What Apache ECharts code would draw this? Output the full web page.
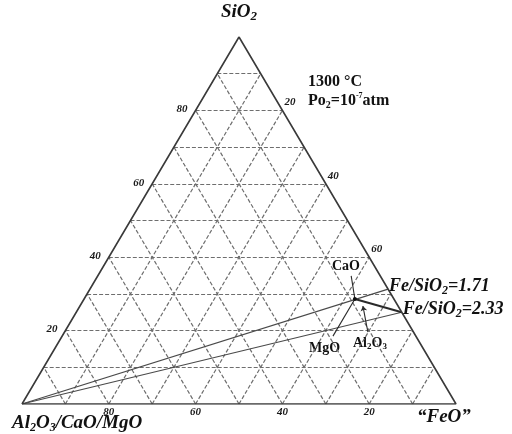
<!DOCTYPE html>
<html><head><meta charset="utf-8">
<script src="https://cdn.jsdelivr.net/npm/echarts@6/dist/echarts.min.js"></script>
<style>html,body{margin:0;padding:0;background:#fff}#c{width:512px;height:434px}</style>
</head><body><div id="c"></div>
<script>
// ---- data (ternary compositions: SiO2 %, "FeO" %) ----
const gridSteps = [10, 20, 30, 40, 50, 60, 70, 80, 90];
const leftTicks = [20, 40, 60, 80];      // SiO2 on left edge
const rightTicks = [20, 40, 60];         // FeO on right edge
const bottomTicks = [80, 60, 40, 20];    // Al2O3/CaO/MgO on base
const ratioLabels = ['1.71', '2.33'];
const ratioEndSiO2 = [31.3, 25.0];       // where Fe/SiO2 lines meet the SiO2-"FeO" edge
const pointP = [28.6, 62.4];             // [SiO2, FeO]
const caoLeader = [[34.9, 58.4], [28.6, 62.4]];
const mgoLeader = [[18.5, 62.4], [28.6, 62.4]];
const al2o3Arrow = [[19.6, 69.9], [26.7, 65.2]];
const thickSeg = [[28.6, 62.4], [25.0, 75.0]];

function tern(s, f) { return [f + s / 2, s]; }

const gridLines = [];
gridSteps.forEach(v => {
  gridLines.push({coords: [tern(v, 0), tern(v, 100 - v)]});          // constant SiO2
  gridLines.push({coords: [tern(0, v), tern(100 - v, v)]});          // constant FeO
  gridLines.push({coords: [tern(0, 100 - v), tern(100 - v, 0)]});    // constant Al2O3/CaO/MgO
});

const ratioLines = ratioEndSiO2.map(s => ({coords: [tern(0, 0), tern(s, 100 - s)]}));

const SERIF = 'Liberation Serif';
const lab = {fontFamily: SERIF, fontStyle: 'italic', fontWeight: 'bold', fontSize: 11, color: '#1a1a1a'};
const solid = {opacity: 1};

const chart = echarts.init(document.getElementById('c'), null, {renderer: 'canvas'});
chart.setOption({
  animation: false,
  grid: {left: 22, right: 56, top: 37, bottom: 30},
  xAxis: {type: 'value', min: 0, max: 100, show: false},
  yAxis: {type: 'value', min: 0, max: 100, show: false},
  series: [
    {type: 'lines', coordinateSystem: 'cartesian2d', data: gridLines, silent: true,
     lineStyle: {color: '#6e6e6e', width: 1.2, type: [4, 2], opacity: 1}},
    {type: 'line', data: [tern(0, 0), tern(0, 100), tern(100, 0), tern(0, 0)], symbol: 'none',
     lineStyle: {color: '#3a3a3a', width: 1.6}},
    {type: 'lines', coordinateSystem: 'cartesian2d', data: ratioLines,
     lineStyle: {color: '#4a4a4a', width: 1.1, opacity: 1}},
    {type: 'lines', coordinateSystem: 'cartesian2d',
     data: [{coords: caoLeader.map(p => tern(p[0], p[1]))}, {coords: mgoLeader.map(p => tern(p[0], p[1]))}],
     lineStyle: {color: '#2a2a2a', width: 1.1, opacity: 1}},
    {type: 'lines', coordinateSystem: 'cartesian2d',
     data: [{coords: thickSeg.map(p => tern(p[0], p[1]))}],
     lineStyle: {color: '#2a2a2a', width: 2, opacity: 1}},
    {type: 'lines', coordinateSystem: 'cartesian2d', symbol: ['none', 'arrow'], symbolSize: 5,
     data: [{coords: al2o3Arrow.map(p => tern(p[0], p[1]))}],
     lineStyle: {color: '#2a2a2a', width: 1.1, opacity: 1}},
    {type: 'scatter', data: [tern(pointP[0], pointP[1])], symbolSize: 4, itemStyle: {color: '#111', opacity: 1}},
    // tick labels
    {type: 'scatter', symbolSize: 0, itemStyle: solid, data: leftTicks.map(v => ({value: tern(v, 0), name: String(v)})),
     label: {show: true, formatter: '{b}', position: 'left', distance: 8, offset: [0, -1], ...lab}},
    {type: 'scatter', symbolSize: 0, itemStyle: solid, data: rightTicks.map(v => ({value: tern(100 - v, v), name: String(v)})),
     label: {show: true, formatter: '{b}', position: 'right', distance: 2, offset: [0, -8], ...lab}},
    {type: 'scatter', symbolSize: 0, itemStyle: solid, data: bottomTicks.map(v => ({value: tern(0, 100 - v), name: String(v)})),
     label: {show: true, formatter: '{b}', position: 'bottom', distance: 3, ...lab}},
    // Fe/SiO2 labels
    {type: 'scatter', symbolSize: 0, itemStyle: solid,
     data: ratioEndSiO2.map((s, i) => ({value: tern(s, 100 - s), name: ratioLabels[i]})),
     label: {show: true, position: 'right', distance: 1, offset: [0, -3],
       formatter: p => '{a|Fe/SiO}{s|2}{a|=' + p.name + '}',
       rich: {a: {fontFamily: SERIF, fontStyle: 'italic', fontWeight: 'bold', fontSize: 18, color: '#111'},
              s: {fontFamily: SERIF, fontStyle: 'italic', fontWeight: 'bold', fontSize: 12, color: '#111', verticalAlign: 'bottom', padding: [9, 0, 0, 0]}}}}
  ],
  graphic: [
    {type: 'text', left: 221, top: 3, style: {text: '{a|SiO}{s|2}', rich: {
      a: {fontFamily: SERIF, fontStyle: 'italic', fontWeight: 'bold', fontSize: 19, fill: '#111'},
      s: {fontFamily: SERIF, fontStyle: 'italic', fontWeight: 'bold', fontSize: 13, fill: '#111', padding: [9, 0, 0, 0]}}}},
    {type: 'text', left: 308, top: 74, style: {text: '1300 °C', fontFamily: SERIF, fontWeight: 'bold', fontSize: 16, fill: '#111'}},
    {type: 'text', left: 308, top: 92, style: {text: '{a|Po}{s|2}{a|=10}{u|-7}{a|atm}', rich: {
      a: {fontFamily: SERIF, fontWeight: 'bold', fontSize: 16, fill: '#111'},
      s: {fontFamily: SERIF, fontWeight: 'bold', fontSize: 10, fill: '#111', padding: [9, 0, 0, 0]},
      u: {fontFamily: SERIF, fontWeight: 'bold', fontSize: 8, fill: '#111', padding: [0, 0, 9, 0]}}}},
    {type: 'text', left: 332, top: 259, style: {text: 'CaO', fontFamily: SERIF, fontWeight: 'bold', fontSize: 14, fill: '#111'}},
    {type: 'text', left: 309, top: 341, style: {text: 'MgO', fontFamily: SERIF, fontWeight: 'bold', fontSize: 14, fill: '#111'}},
    {type: 'text', left: 353, top: 336, style: {text: '{a|Al}{s|2}{a|O}{s|3}', rich: {
      a: {fontFamily: SERIF, fontWeight: 'bold', fontSize: 14, fill: '#111'},
      s: {fontFamily: SERIF, fontWeight: 'bold', fontSize: 9, fill: '#111', padding: [8, 0, 0, 0]}}}},
    {type: 'text', left: 12, top: 414, style: {text: '{a|Al}{s|2}{a|O}{s|3}{a|/CaO/MgO}', rich: {
      a: {fontFamily: SERIF, fontStyle: 'italic', fontWeight: 'bold', fontSize: 19, fill: '#111'},
      s: {fontFamily: SERIF, fontStyle: 'italic', fontWeight: 'bold', fontSize: 12, fill: '#111', padding: [9, 0, 0, 0]}}}},
    {type: 'text', left: 417, top: 408, style: {text: '\u201CFeO\u201D', fontFamily: SERIF, fontStyle: 'italic', fontWeight: 'bold', fontSize: 19, fill: '#111'}}
  ]
});
</script></body></html>
